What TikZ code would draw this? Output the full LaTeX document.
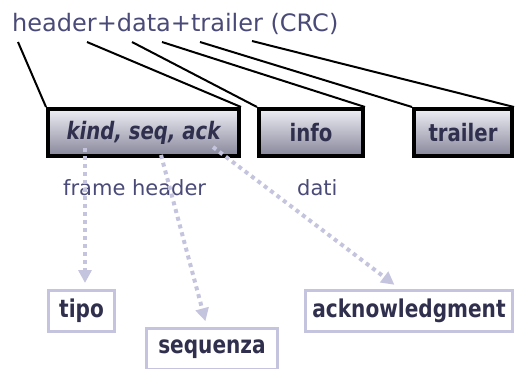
\documentclass[tikz,border=0pt]{standalone}
\usepackage{fontspec}
\setmainfont{DejaVu Sans}
\newfontfamily\boxfont[FakeStretch=0.82]{DejaVu Sans}
\usetikzlibrary{arrows.meta}
\definecolor{titleblue}{HTML}{4A4A78}
\definecolor{inkblue}{HTML}{30304E}
\definecolor{lav}{HTML}{C4C4DE}
\definecolor{shadetop}{HTML}{EEEEF5}
\definecolor{shadebot}{HTML}{86869A}
\tikzset{
  field/.style={draw=black, line width=4pt, top color=shadetop, bottom color=shadebot,
    minimum height=47pt, inner sep=0pt, text=inkblue,
    font=\boxfont\bfseries\fontsize{24}{27}\selectfont},
  meaning/.style={draw=lav, line width=3pt, fill=white, minimum height=41pt,
    inner sep=0pt, text=inkblue, font=\boxfont\bfseries\fontsize{24.5}{28}\selectfont},
  caption/.style={text=titleblue, inner sep=0pt, anchor=base west},
  splitline/.style={line width=2pt, black},
  dotarrow/.style={draw=lav, line width=4pt, dash pattern=on 4pt off 4pt,
    -{Triangle[width=13pt,length=13pt,fill=lav]}}
}
\begin{document}
\begin{tikzpicture}[x=1pt,y=-1pt]
  \useasboundingbox (0,0) rectangle (516,368);

  % overall frame layout
  \node[caption, font=\fontsize{24}{28}\selectfont] (title) at (12,31) {header+data+trailer (CRC)};

  % frame fields
  \node[field, minimum width=191pt] (kind) at (143.5,132.5) {\itshape kind, seq, ack};
  \node[field, minimum width=104pt] (info) at (311,132.5) {info};
  \node[field, minimum width=98pt] (trailer) at (463,132.5) {trailer};

  % points under the title where the brackets start
  \coordinate (t1) at (18,42);
  \coordinate (t2) at (87,42);
  \coordinate (t3) at (132,42);
  \coordinate (t4) at (162,42);
  \coordinate (t5) at (200,42);
  \coordinate (t6) at (252,41);

  \draw[splitline] (t1) -- (kind.north west);
  \draw[splitline] (t2) -- (kind.north east);
  \draw[splitline] (t3) -- (info.north west);
  \draw[splitline] (t4) -- (info.north east);
  \draw[splitline] (t5) -- (trailer.north west);
  \draw[splitline] (t6) -- (trailer.north east);

  % labels below the fields
  \node[caption, font=\fontsize{21}{25}\selectfont] (hdr) at (63,195) {frame header};
  \node[caption, font=\fontsize{21}{25}\selectfont] (dati) at (297,195) {dati};

  % meaning of the header subfields
  \node[meaning, minimum width=66pt] (tipo) at (81.5,311) {tipo};
  \node[meaning, minimum width=131pt] (seq) at (212,349) {sequenza};
  \node[meaning, minimum width=207pt] (ack) at (409,311) {acknowledgment};

  \coordinate (s1) at (85,148);
  \coordinate (s2) at (161,155);
  \coordinate (s3) at (213,147);

  \draw[dotarrow, shorten >=6pt] (s1) -- ([xshift=3.5pt]tipo.north);
  \draw[dotarrow, shorten >=6pt] (s2) -- ([xshift=-5pt]seq.north);
  \draw[dotarrow, shorten >=7pt] (s3) -- ([xshift=-9pt]ack.north);
\end{tikzpicture}
\end{document}
